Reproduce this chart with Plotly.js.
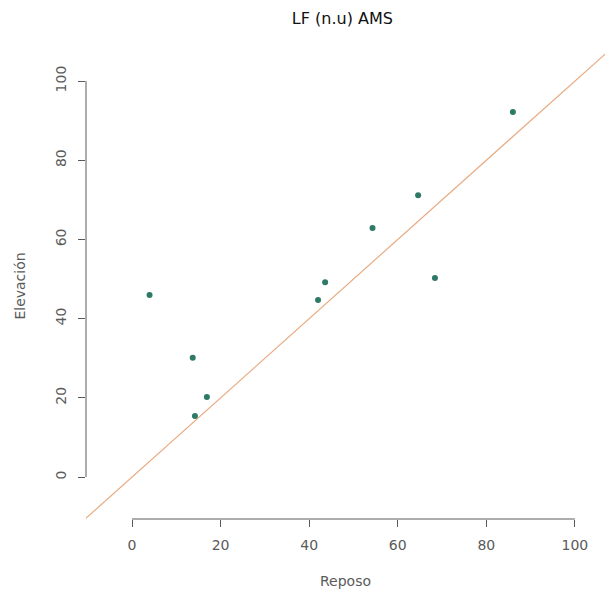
<!DOCTYPE html>
<html>
<head>
<meta charset="utf-8">
<script src="https://cdn.plot.ly/plotly-3.0.1.min.js"></script>
<style>html,body{margin:0;padding:0;background:#fff;}</style>
</head>
<body>
<div id="chart" style="width:613px;height:597px;"></div>
<script>
var reposo   = [3.95, 13.7, 14.2, 16.9, 42.0, 43.6, 54.3, 64.6, 68.4, 86.0];
var elevacion = [46.0, 30.1, 15.4, 20.2, 44.7, 49.2, 62.9, 71.2, 50.3, 92.2];
var refLine = [-20, 120];
var tickVals = [0, 20, 40, 60, 80, 100];

var FONT = '"DejaVu Sans", sans-serif';
var GREY = '#5a5a5a';

var traces = [
  {
    x: refLine, y: refLine, mode: 'lines', type: 'scatter',
    line: {color: '#e8aa80', width: 1.2}, hoverinfo: 'skip'
  },
  {
    x: reposo, y: elevacion, mode: 'markers', type: 'scatter',
    marker: {color: '#2e7a67', size: 6}
  }
];

var layout = {
  width: 613, height: 597,
  margin: {l: 86, r: 8, t: 53, b: 78},
  paper_bgcolor: '#ffffff', plot_bgcolor: '#ffffff',
  showlegend: false,
  font: {family: FONT, color: GREY, size: 14},
  title: {
    text: 'LF (n.u) AMS',
    font: {family: FONT, size: 16, color: '#111111'},
    x: 0.494, xanchor: 'center', xref: 'paper',
    y: 1 - 18/597, yanchor: 'middle', yref: 'container'
  },
  xaxis: {
    range: [-10.4, 106.8], tickvals: tickVals, ticktext: tickVals.map(String),
    showgrid: false, zeroline: false, showline: false,
    ticks: 'outside', ticklen: 7, tickcolor: GREY, tickwidth: 1,
    ticklabelstandoff: 6,
    tickfont: {family: FONT, size: 14, color: GREY},
    title: {text: 'Reposo', font: {family: FONT, size: 14, color: GREY}, standoff: 24}
  },
  yaxis: {
    range: [-10.6, 107.1], tickvals: tickVals, ticktext: tickVals.map(String),
    showgrid: false, zeroline: false, showline: false,
    ticks: 'outside', ticklen: 7, tickcolor: GREY, tickwidth: 1,
    tickangle: -90, ticklabelstandoff: 6,
    tickfont: {family: FONT, size: 14, color: GREY},
    title: {text: 'Elevación', font: {family: FONT, size: 14, color: GREY}, standoff: 24}
  },
  shapes: [
    {type: 'line', xref: 'x', yref: 'paper', x0: tickVals[0], x1: tickVals[tickVals.length-1], y0: 0, y1: 0,
     line: {color: GREY, width: 1}},
    {type: 'line', xref: 'paper', yref: 'y', x0: 0, x1: 0, y0: tickVals[0], y1: tickVals[tickVals.length-1],
     line: {color: GREY, width: 1}}
  ]
};

Plotly.newPlot('chart', traces, layout, {displayModeBar: false, staticPlot: true});
</script>
</body>
</html>
